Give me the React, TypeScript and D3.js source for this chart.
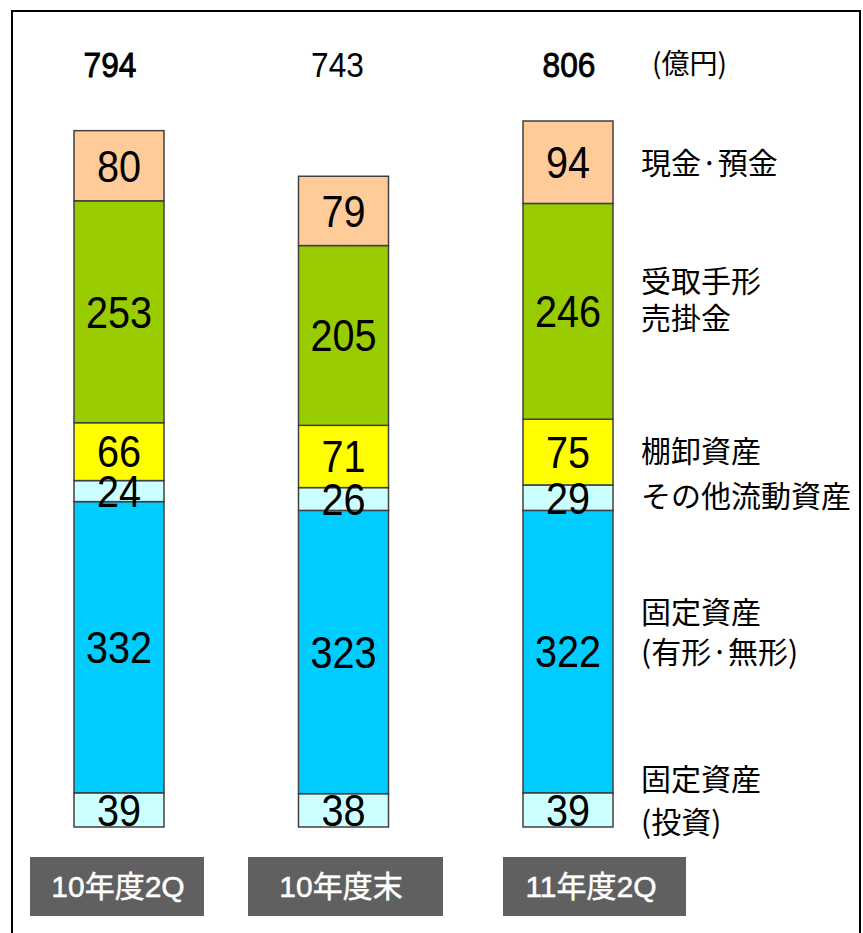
import React from "react";
import * as d3 from "d3";

const categories = ["10年度2Q", "10年度末", "11年度2Q"];
const investments = [39, 38, 39];
const fixedTangible = [332, 323, 322];
const otherCurrent = [24, 26, 29];
const inventory = [66, 71, 75];
const receivables = [253, 205, 246];
const cash = [80, 79, 94];
const totals = [794, 743, 806];
const unitLabel = "(億円)";

const seriesKeys = ["investments", "fixedTangible", "otherCurrent", "inventory", "receivables", "cash"];
const seriesColors = ["#CCFFFF", "#00CCFF", "#CCFFFF", "#FFFF00", "#99CC00", "#FFCC99"];
const legendLines = [
  ["現金·預金"],
  ["受取手形", "売掛金"],
  ["棚卸資産"],
  ["その他流動資産"],
  ["固定資産", "(有形·無形)"],
  ["固定資産", "(投資)"],
];

// layout
const W = 863;
const H = 933;
const legendY = [163, 281, 451, 496, 612, 779];
const legendLineGap = [0, 37, 0, 0, 40, 43];
const boxLayout = [
  { x: 30, w: 174, tx: 118 },
  { x: 248, w: 195, tx: 341 },
  { x: 503, w: 183, tx: 591 },
];
const totalStroke = [0.9, 0, 0.9];
const totalOffsets = [-9, -6, 1];

const FONT = "'Liberation Sans', Arial, 'Noto Sans CJK JP', sans-serif";
const CJK = "'Noto Sans CJK JP', 'Liberation Sans', sans-serif";

export default function App() {
  const rows = categories.map((c, i) => ({
    cat: c,
    investments: investments[i],
    fixedTangible: fixedTangible[i],
    otherCurrent: otherCurrent[i],
    inventory: inventory[i],
    receivables: receivables[i],
    cash: cash[i],
  }));
  const stack = d3.stack<any>().keys(seriesKeys)(rows);
  const maxTotal = d3.max(rows, (r: any) => seriesKeys.reduce((s, k) => s + r[k], 0)) as number;

  const y = d3.scaleLinear().domain([0, maxTotal]).range([827, 121]);
  const x = d3.scalePoint<string>().domain(categories).range([119, 568]);
  const barW = 90;

  return (
    <svg
      width={W}
      height={H}
      style={{ position: "absolute", left: 0, top: 0, background: "#fff" }}
    >
      <rect x={12} y={11} width={848} height={940} fill="#fff" stroke="#000" strokeWidth={2} />

      {/* bars */}
      {stack.map((s, si) => (
        <g key={seriesKeys[si]}>
          {s.map((d, i) => {
            const cx = x(categories[i]) as number;
            const y0 = y(d[0]);
            const y1 = y(d[1]);
            return (
              <rect
                key={i}
                x={cx - barW / 2}
                y={y1}
                width={barW}
                height={y0 - y1}
                fill={seriesColors[si]}
                stroke="#404040"
                strokeWidth={1.5}
              />
            );
          })}
        </g>
      ))}

      {/* segment labels */}
      {stack.map((s, si) => (
        <g key={"l" + seriesKeys[si]}>
          {s.map((d, i) => {
            const cx = x(categories[i]) as number;
            const cy = (y(d[0]) + y(d[1])) / 2;
            return (
              <text
                key={i}
                transform={`translate(${cx},${cy}) scale(0.9,1)`}
                dy="0.36em"
                textAnchor="middle"
                fontFamily={FONT}
                fontSize={44}
                fill="#000"
              >
                {d[1] - d[0]}
              </text>
            );
          })}
        </g>
      ))}

      {/* totals */}
      {totals.map((t, i) => (
        <text
          key={i}
          transform={`translate(${(x(categories[i]) as number) + totalOffsets[i]},64) scale(0.88,1)`}
          dy="0.36em"
          textAnchor="middle"
          fontFamily={FONT}
          fontSize={36}
          fill="#000"
          stroke="#000"
          strokeWidth={totalStroke[i]}
        >
          {t}
        </text>
      ))}
      <text x={652} y={64} dy="0.36em" fontFamily={CJK} fontSize={28} fill="#000">
        {unitLabel}
      </text>

      {/* legend */}
      {legendLines.map((lines, i) => (
        <g key={i}>
          {lines.map((ln, j) => (
            <text
              key={j}
              x={641}
              y={legendY[i] + j * legendLineGap[i]}
              dy="0.36em"
              fontFamily={CJK}
              fontSize={30}
              fill="#000"
            >
              {ln}
            </text>
          ))}
        </g>
      ))}

      {/* category boxes */}
      {categories.map((c, i) => (
        <g key={c}>
          <rect x={boxLayout[i].x} y={857} width={boxLayout[i].w} height={59} fill="#606060" />
          <text
            x={boxLayout[i].tx}
            y={886}
            dy="0.36em"
            textAnchor="middle"
            fontFamily={FONT}
            fontSize={30}
            fill="#fff"
            stroke="#fff"
            strokeWidth={0.5}
          >
            {c}
          </text>
        </g>
      ))}
    </svg>
  );
}
